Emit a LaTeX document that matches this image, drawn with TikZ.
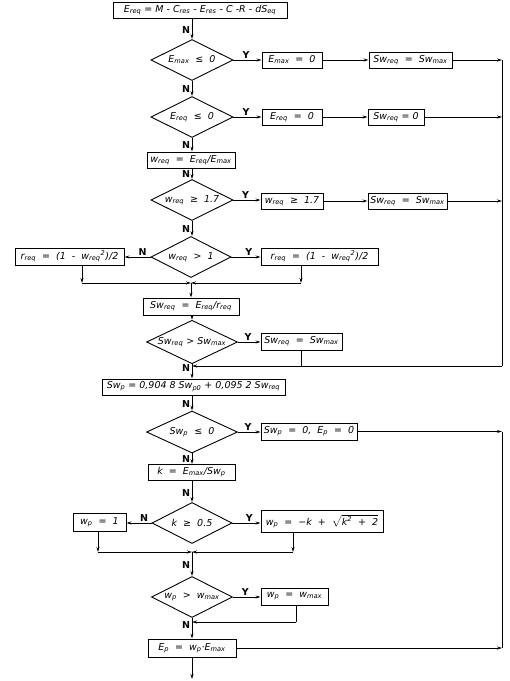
\documentclass[tikz,border=0pt]{standalone}
\usepackage{fontspec}
\setmainfont{DejaVu Sans}
\usetikzlibrary{shapes.geometric,arrows.meta}
\newcommand\subx[1]{\textsubscript{#1}}
\newcommand\supx[1]{\textsuperscript{#1}}
\begin{document}
\begin{tikzpicture}[x=1pt,y=-1pt,
  font=\fontsize{9.5}{11}\selectfont\itshape,
  line width=0.9pt,
  >={Stealth[length=5pt,width=3pt]},
  box/.style={draw,rectangle,inner sep=1pt,minimum height=16pt},
  dia/.style={draw,diamond,aspect=2,inner sep=0pt,minimum width=82pt,minimum height=41pt},
  lab/.style={font=\fontsize{9.5}{11}\selectfont\upshape\bfseries,inner sep=1.5pt},
  nl/.style={lab,left,pos=0.55},
  yl/.style={lab,above,pos=0.45}]
\useasboundingbox (0,0) rectangle (510,681);
% nodes
\node[box,minimum width=174pt] (top) at (200,10) {E\subx{req} = M - C\subx{res} - E\subx{res} - C -R - dS\subx{eq}};
\node[dia] (d1) at (192,60) {E\subx{max} \ ≤ \ 0};
\node[box,minimum width=60pt] (b1) at (292,60) {E\subx{max} \ = \ 0};
\node[box,minimum width=83pt] (c1) at (410.5,60) {Sw\subx{req} \ = \ Sw\subx{max}};
\node[dia] (d2) at (192,117) {E\subx{req} \ ≤ \ 0};
\node[box,minimum width=60pt] (b2) at (292,117) {E\subx{req} \ = \ 0};
\node[box,minimum width=56pt] (c2) at (396,117) {Sw\subx{req} = 0};
\node[box,minimum width=88pt] (w) at (191,160) {w\subx{req} \ = \ E\subx{req}/E\subx{max}};
\node[dia] (d3) at (192,200) {w\subx{req} \ ≥ \ 1.7};
\node[box,minimum width=62pt] (b3) at (292,201) {w\subx{req} \ ≥ \ 1.7};
\node[box,minimum width=79pt] (c3) at (407.5,201) {Sw\subx{req} \ = \ Sw\subx{max}};
\node[dia,minimum width=80pt] (d4) at (191,257) {w\subx{req} \ > \ 1};
\node[box,minimum width=109pt,minimum height=17pt] (l4) at (69.5,256.5) {r\subx{req} \ = \ (1 \ - \ w\subx{req}\supx{2})/2};
\node[box,minimum width=117pt,minimum height=17pt] (r4) at (319.5,256.5) {r\subx{req} \ = \ (1 \ - \ w\subx{req}\supx{2})/2};
\coordinate (j4l) at (82,283);
\coordinate (j4r) at (301,283);
\coordinate (j4c) at (191,283);
\node[box,minimum width=96pt,minimum height=17pt] (swr) at (191,306.5) {Sw\subx{req} \ = \ E\subx{req}/r\subx{req}};
\node[dia,minimum width=91pt,minimum height=42pt] (d5) at (192,342) {Sw\subx{req} > Sw\subx{max}};
\node[box,minimum width=81pt,minimum height=17pt] (b5) at (301.5,341.5) {Sw\subx{req} \ = \ Sw\subx{max}};
\coordinate (m5) at (192,366);
\node[box,minimum width=183pt] (swp) at (193.5,387) {Sw\subx{p} = 0,904 8 Sw\subx{p0} + 0,095 2 Sw\subx{req}};
\node[dia,minimum width=91pt,minimum height=42pt] (d6) at (192,432) {Sw\subx{p} \ ≤ \ 0};
\node[box,minimum width=96pt,minimum height=17pt] (b6) at (309,431.5) {Sw\subx{p} \ = \ 0, \ E\subx{p} \ = \ 0};
\node[box,minimum width=87pt] (k) at (191.5,472.5) {k \ = \ E\subx{max}/Sw\subx{p}};
\node[dia,minimum width=80pt] (d7) at (192,523) {k \ ≥ \ 0.5};
\node[box,minimum width=53pt,minimum height=18pt] (l7) at (99.5,522) {w\subx{p} \ = \ 1};
\node[box,minimum width=122pt,minimum height=22pt] (r7) at (322,521) {w\subx{p} \ = \ −k \ + \ $\sqrt{\mbox{\itshape k\supx{2} \ + \ 2}}$};
\coordinate (j7l) at (98,552);
\coordinate (j7r) at (293,552);
\coordinate (j7c) at (192,552);
\node[dia,minimum width=81pt] (d8) at (192,597) {w\subx{p} \ > \ w\subx{max}};
\node[box,minimum width=67pt,minimum height=17pt] (b8) at (294.5,596.5) {w\subx{p} \ = \ w\subx{max}};
\coordinate (m8) at (192,622);
\node[box,minimum width=88pt,minimum height=18pt] (ep) at (192,648) {E\subx{p} \ = \ w\subx{p}·E\subx{max}};
\coordinate (out) at (192,679);
\coordinate (rt) at (502,60);
\coordinate (rb) at (502,366);
\coordinate (rt2) at (502,431.5);
\coordinate (rb2) at (502,648);
% main flow
\draw[->] (top.south -| d1.north) -- node[nl]{N} (d1.north);
\draw[->] (d1.south) -- node[nl]{N} (d2.north);
\draw[->] (d2.south) -- node[nl]{N} (w.north -| d2.south);
\draw[->] (w.south -| d3.north) -- node[nl]{N} (d3.north);
\draw[->] (d3.south) -- node[nl]{N} (d4.north -| d3.south);
\draw[->] (d5.south) -- node[nl,pos=0.3]{N} (swp.north -| d5.south);
\draw[->] (swp.south -| d6.north) -- node[nl]{N} (d6.north);
\draw[->] (d6.south) -- node[nl]{N} (k.north -| d6.south);
\draw[->] (k.south -| d7.north) -- node[nl]{N} (d7.north);
\draw[->] (j7c) -- node[nl]{N} (d8.north);
\draw[->] (d8.south) -- node[nl,pos=0.35]{N} (ep.north);
\draw[->] (ep.south) -- (out);
% Y branches
\draw[->] (d1.east) -- node[yl]{Y} (b1.west);
\draw[->] (b1.east) -- (c1.west);
\draw[->] (d2.east) -- node[yl]{Y} (b2.west);
\draw[->] (b2.east) -- (c2.west);
\draw[->] (d3.east) -- node[yl]{Y} (b3.west |- d3.east);
\draw[->] (b3.east) -- (c3.west);
\draw[->] (d4.west) -- node[yl,pos=0.3]{N} (l4.east |- d4.west);
\draw[->] (d4.east) -- node[yl,pos=0.6]{Y} (r4.west |- d4.east);
\draw[->] (j4l |- l4.south) -- (j4l);
\draw[->] (j4r |- r4.south) -- (j4r);
\draw[->] (j4l) -- (j4c);
\draw[->] (j4r) -- (j4c);
\draw[->] (j4c) -- (swr.north -| j4c);
\draw[->] (swr.south -| d5.north) -- (d5.north);
\draw[->] (d5.east) -- node[yl]{Y} (b5.west |- d5.east);
\draw (b5.south -| j4r) -- (m5 -| j4r);
\draw[->] (c1.east) -- (c1.east -| rt);
\draw[->] (c2.east) -- (c2.east -| rt);
\draw[->] (c3.east) -- (c3.east -| rt);
\draw (c1.east -| rt) -- (rb);
\draw[->] (rb) -- (m5);
\draw[->] (d6.east) -- node[yl]{Y} (b6.west |- d6.east);
\draw[->] (b6.east) -- (rt2);
\draw (rt2) -- (rb2);
\draw[->] (ep.east) -- (rb2);
\draw[->] (d7.west) -- node[yl,pos=0.3]{N} (l7.east |- d7.west);
\draw[->] (d7.east) -- node[yl,pos=0.6]{Y} (r7.west |- d7.east);
\draw[->] (j7l |- l7.south) -- (j7l);
\draw[->] (j7r |- r7.south) -- (j7r);
\draw[->] (j7l) -- (j7c);
\draw[->] (j7r) -- (j7c);
\draw[->] (d8.east) -- node[yl]{Y} (b8.west |- d8.east);
\draw (b8.south -| 296,0) -- (m8 -| 296,0);
\draw[->] (m8 -| 296,0) -- (m8);
\end{tikzpicture}
\end{document}
